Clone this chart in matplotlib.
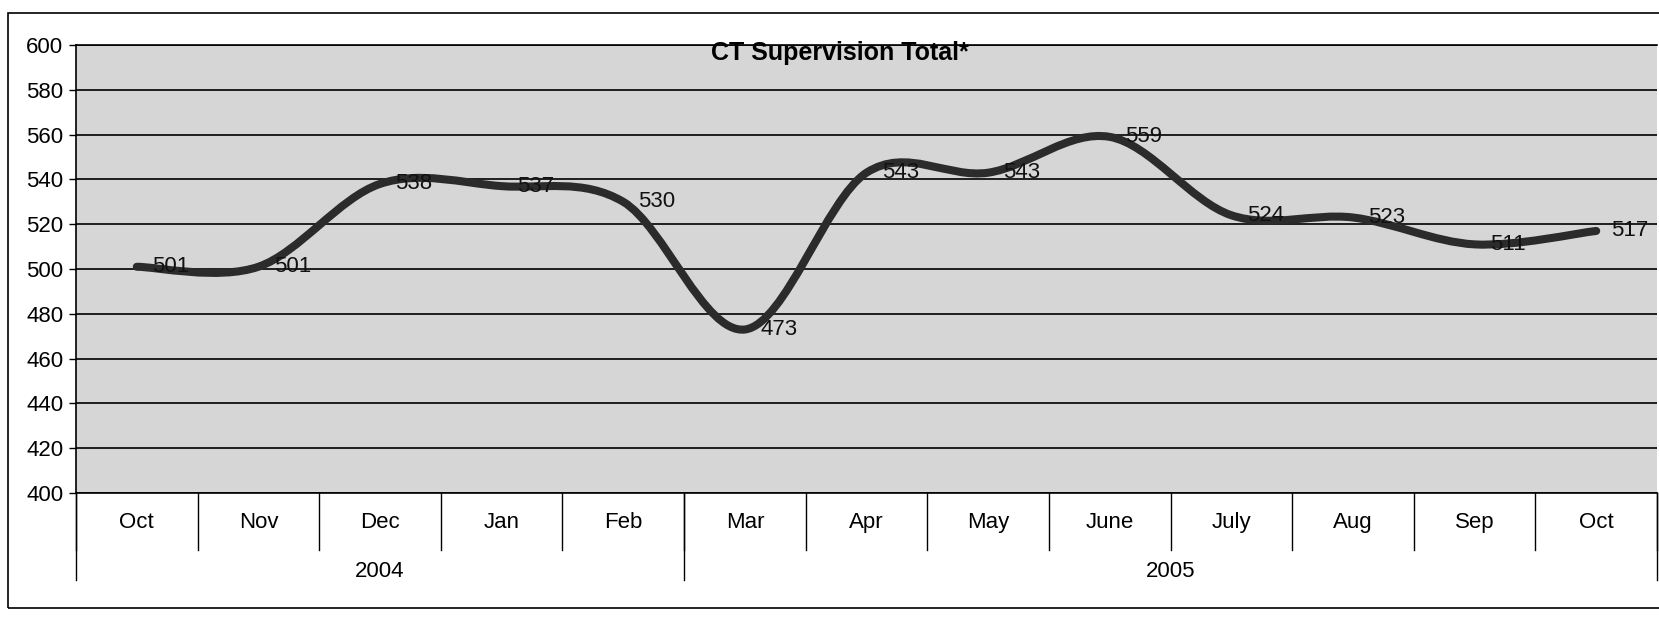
import numpy as np
import matplotlib.pyplot as plt
import matplotlib.transforms as mtransforms
from matplotlib.path import Path
from matplotlib.patches import PathPatch, Rectangle

plt.rcParams['font.family'] = ['Liberation Sans', 'DejaVu Sans']

months = ['Oct', 'Nov', 'Dec', 'Jan', 'Feb', 'Mar', 'Apr', 'May',
          'June', 'July', 'Aug', 'Sep', 'Oct']
totals = [501, 501, 538, 537, 530, 473, 543, 543, 559, 524, 523, 511, 517]
years = ['2004', '2005']
year_spans = [(0, 4), (5, 12)]

fig = plt.figure(figsize=(16.59, 6.17), dpi=100)
ax = fig.add_axes([0.0458, 0.201, 0.953, 0.726])
ax.set_facecolor('#d6d6d6')

# smoothed line (bezier through the points, like excel's smoothing)
x = np.arange(len(totals), dtype=float)
y = np.array(totals, dtype=float)
px = np.concatenate([[x[0]], x, [x[-1]]])
py = np.concatenate([[y[0]], y, [y[-1]]])
verts = [(x[0], y[0])]
codes = [Path.MOVETO]
for i in range(1, len(px) - 2):
    c1 = (px[i] + (px[i+1] - px[i-1]) / 6, py[i] + (py[i+1] - py[i-1]) / 6)
    c2 = (px[i+1] - (px[i+2] - px[i]) / 6, py[i+1] - (py[i+2] - py[i]) / 6)
    verts += [c1, c2, (px[i+1], py[i+1])]
    codes += [Path.CURVE4] * 3
ax.add_patch(PathPatch(Path(verts, codes), fill=False, edgecolor='#2b2b2b',
                       lw=5.8, capstyle='round', zorder=3))

for xi, v in zip(x, totals):
    ax.annotate(str(v), (xi, v), xytext=(11, 0), textcoords='offset points',
                ha='left', va='center', fontsize=16, color='#111111', zorder=4)

ax.set_xlim(-0.5, len(totals) - 0.5)
ax.set_ylim(400, 600)
ax.set_yticks(np.arange(400, 601, 20))
ax.yaxis.grid(True, color='black', lw=1.2)
ax.set_axisbelow(True)
ax.tick_params(axis='y', labelsize=16, length=5, width=1, pad=4)
ax.set_xticks([])
for s in ax.spines.values():
    s.set_color('black')
    s.set_linewidth(1.2)
ax.spines['right'].set_visible(False)

ax.text(0.483, 0.982, 'CT Supervision Total*', transform=ax.transAxes,
        ha='center', va='center', fontsize=18, fontweight='bold', zorder=5)

# two-level category axis
trans = mtransforms.blended_transform_factory(ax.transData, ax.transAxes)
for i in range(len(months) + 1):
    ax.plot([i - 0.5, i - 0.5], [0, -0.127], transform=trans, color='black',
            lw=1, clip_on=False)
for i, m in enumerate(months):
    ax.text(i, -0.066, m, transform=trans, ha='center', va='center', fontsize=16)
for yr, (a, b) in zip(years, year_spans):
    ax.plot([a - 0.5, a - 0.5], [0, -0.194], transform=trans, color='black',
            lw=1, clip_on=False)
    ax.text((a + b) / 2, -0.175, yr, transform=trans, ha='center', va='center',
            fontsize=16)
ax.plot([12.5, 12.5], [0, -0.194], transform=trans, color='black', lw=1, clip_on=False)

# outer chart border
fig.patches.append(Rectangle((0.005, 0.0146), 1.1, 0.965, transform=fig.transFigure,
                             fill=False, edgecolor='black', lw=1.2))

fig.savefig('out.png', dpi=100)
